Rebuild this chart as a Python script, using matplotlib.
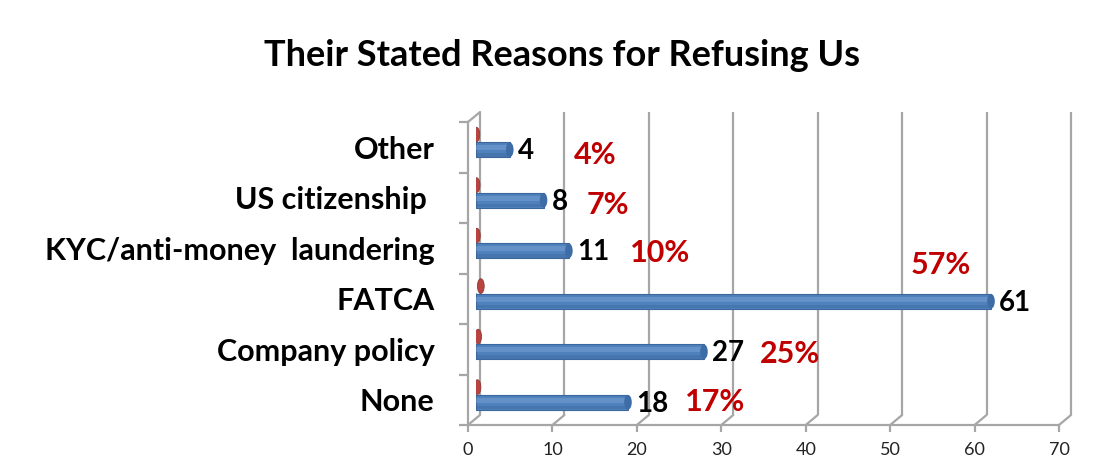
import matplotlib
matplotlib.use('Agg')
import matplotlib.pyplot as plt
from matplotlib.patches import Ellipse, ConnectionPatch

plt.rcParams['font.family'] = ['Lato', 'DejaVu Sans']

# data (bottom to top, as drawn)
categories = ['None', 'Company policy', 'FATCA', 'KYC/anti-money  laundering', 'US citizenship ', 'Other']
counts = [18, 27, 61, 11, 8, 4]
percents = [17, 25, 57, 10, 7, 4]
x_ticks = [0, 10, 20, 30, 40, 50, 60, 70]

# hand placed % labels (x in axis units, y shift in rows), as in the original sheet
pct_x = [28.3, 37.2, 55.0, 21.8, 15.6, 14.1]
pct_dy = [0.0, -0.04, 0.71, -0.04, -0.1, -0.1]

grid_c = '#A6A6A6'
blue = '#4F81BD'
red_txt = '#C00000'

W, H = 1109, 475
fig = plt.figure(figsize=(W / 100, H / 100), dpi=100)


def box(x0, y0, x1, y1):
    # pixel box (top-left origin) -> figure fraction
    return [x0 / W, 1 - y1 / H, (x1 - x0) / W, (y1 - y0) / H]


ypos = list(range(len(categories)))
lims = dict(xlim=(0, 70), ylim=(-0.5, len(categories) - 0.5))

# back wall with gridlines
back = fig.add_axes(box(480, 112, 1071, 415))
back.set(**lims)
back.axis('off')
back.vlines(x_ticks, -0.5, len(categories) - 0.5, color=grid_c, lw=1.6, clip_on=False)

# bars (mid depth)
bax = fig.add_axes(box(476, 124.5, 1067, 427.5))
bax.set(**lims)
bax.axis('off')
bar_h = 0.29
bax.barh(ypos, counts, height=bar_h, color=blue, edgecolor='#3B679C', lw=0.8, zorder=3)
bax.barh([y + 0.04 for y in ypos], counts, height=0.1, color='#7FA5D6', lw=0, alpha=0.45, zorder=4)
bax.barh([y - 0.1 for y in ypos], counts, height=0.07, color='#3A6395', lw=0, alpha=0.35, zorder=4)
for y, v, p in zip(ypos, counts, percents):
    bax.add_patch(Ellipse((0, y), 0.9, bar_h, color=blue, ec='#3B679C', lw=0.8, zorder=2))
    bax.add_patch(Ellipse((v, y), 0.9, bar_h, color='#3D6CA6', lw=0, zorder=5))
    # percent series: tiny cylinders near zero
    bax.add_patch(Ellipse((p / 100, y + 0.3), 0.8, 0.29, color='#B8433F', ec='#8C3A37', lw=0.6, zorder=2))
    bax.annotate(str(v), (v, y - 0.03), xytext=(6, 0), textcoords='offset points',
                 ha='left', va='center', fontsize=20, fontweight='bold', color='black', zorder=6)

for y, px, dy, p in zip(ypos, pct_x, pct_dy, percents):
    bax.text(px, y + dy, f'{p}%', ha='center', va='center', fontsize=22,
             fontweight='bold', color=red_txt, zorder=6)

# front axis: category labels and value ticks
front = fig.add_axes(box(468, 122, 1059, 425))
front.set(**lims)
front.patch.set_alpha(0)
for s in ['top', 'right']:
    front.spines[s].set_visible(False)
for s in ['left', 'bottom']:
    front.spines[s].set_color(grid_c)
    front.spines[s].set_linewidth(1.6)
front.set_xticks(x_ticks)
front.set_xticklabels([str(t) for t in x_ticks], fontsize=13, color='#222222')
front.tick_params(axis='x', direction='out', length=5, width=1.6, color=grid_c, pad=7)
front.set_yticks([y - 0.5 for y in ypos] + [len(categories) - 0.5])
front.set_yticklabels([])
front.tick_params(axis='y', which='major', direction='out', length=6.5, width=1.6, color=grid_c)
front.set_yticks(ypos, minor=True)
front.set_yticklabels(categories, minor=True, fontsize=22, fontweight='bold')
front.tick_params(axis='y', which='minor', length=0, pad=24)

# depth lines between the front axes and the back wall
top = len(categories) - 0.5
for t in x_ticks:
    fig.add_artist(ConnectionPatch((t, -0.5), (t, -0.5), coordsA=front.transData,
                                   coordsB=back.transData, color=grid_c, lw=1.6))
fig.add_artist(ConnectionPatch((0, top), (0, top), coordsA=front.transData,
                               coordsB=back.transData, color=grid_c, lw=1.6))

fig.text(562 / W, 1 - 56 / H, 'Their Stated Reasons for Refusing Us', ha='center', va='center',
         fontsize=26, fontweight='bold')

fig.savefig('out.png', dpi=100, facecolor='white')
